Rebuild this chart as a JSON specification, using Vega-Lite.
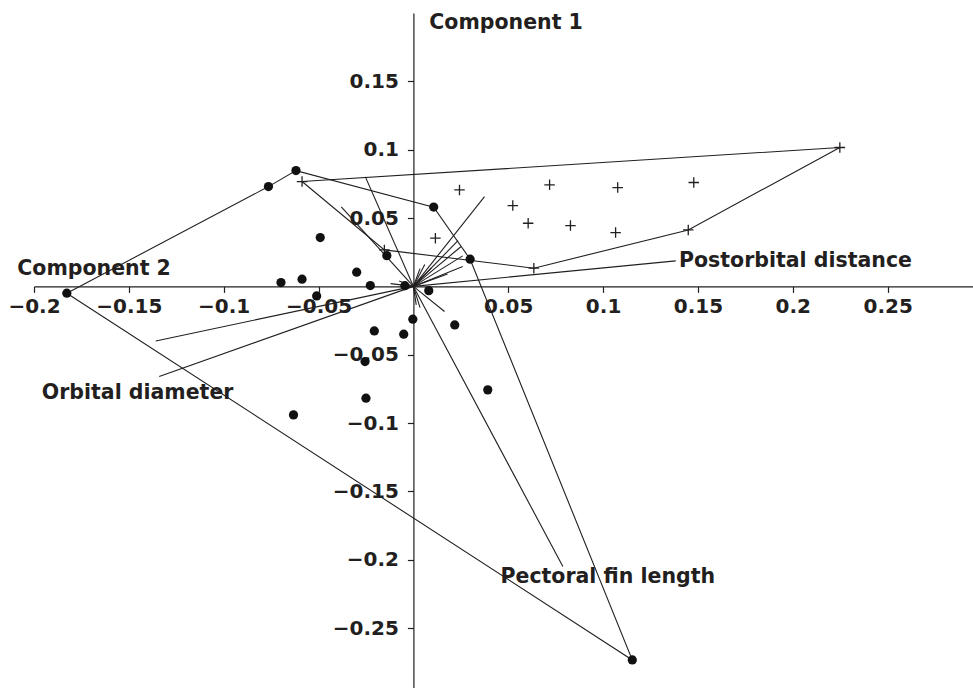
{
  "$schema": "https://vega.github.io/schema/vega-lite/v6.json",
  "width": 939,
  "height": 675,
  "padding": {"left": 34, "top": 13, "right": 0, "bottom": 0},
  "autosize": {"type": "none"},
  "background": "white",
  "config": {"view": {"stroke": null}},
  "datasets": {
    "dots": [
      {"x": -0.1827, "y": -0.005}, {"x": -0.0764, "y": 0.073}, {"x": -0.0619, "y": 0.0847},
      {"x": -0.0491, "y": 0.0357}, {"x": -0.0698, "y": 0.0028}, {"x": -0.0587, "y": 0.0053},
      {"x": -0.0299, "y": 0.0104}, {"x": -0.0227, "y": 0.0006}, {"x": -0.014, "y": 0.0225},
      {"x": 0.0107, "y": 0.058}, {"x": 0.0299, "y": 0.0199}, {"x": 0.0081, "y": -0.0031},
      {"x": -0.0003, "y": -0.024}, {"x": 0.0218, "y": -0.0282}, {"x": -0.0206, "y": -0.0326},
      {"x": -0.0051, "y": -0.035}, {"x": -0.051, "y": -0.007}, {"x": -0.0255, "y": -0.055},
      {"x": -0.025, "y": -0.0818}, {"x": -0.0632, "y": -0.094}, {"x": 0.0392, "y": -0.0757},
      {"x": 0.1154, "y": -0.2733}, {"x": -0.0045, "y": 0.0005}
    ],
    "plus": [
      {"x": -0.0587, "y": 0.0767}, {"x": -0.0153, "y": 0.0267}, {"x": 0.0116, "y": 0.0353},
      {"x": 0.0243, "y": 0.0706}, {"x": 0.0524, "y": 0.0591}, {"x": 0.0605, "y": 0.0462},
      {"x": 0.0718, "y": 0.0743}, {"x": 0.0828, "y": 0.0445}, {"x": 0.0635, "y": 0.0133},
      {"x": 0.1066, "y": 0.0394}, {"x": 0.1077, "y": 0.0723}, {"x": 0.1449, "y": 0.0413},
      {"x": 0.1478, "y": 0.076}, {"x": 0.2248, "y": 0.1016}
    ],
    "hulls": [
      {"group": "dots", "order": 1, "x": -0.1827, "y": -0.005},
      {"group": "dots", "order": 2, "x": -0.0764, "y": 0.073},
      {"group": "dots", "order": 3, "x": -0.0619, "y": 0.0847},
      {"group": "dots", "order": 4, "x": 0.0107, "y": 0.058},
      {"group": "dots", "order": 5, "x": 0.0299, "y": 0.0199},
      {"group": "dots", "order": 6, "x": 0.1154, "y": -0.2733},
      {"group": "dots", "order": 7, "x": -0.1827, "y": -0.005},
      {"group": "plus", "order": 1, "x": -0.0587, "y": 0.0767},
      {"group": "plus", "order": 2, "x": 0.2248, "y": 0.1016},
      {"group": "plus", "order": 3, "x": 0.1449, "y": 0.0413},
      {"group": "plus", "order": 4, "x": 0.0635, "y": 0.0133},
      {"group": "plus", "order": 5, "x": -0.0153, "y": 0.0267},
      {"group": "plus", "order": 6, "x": -0.0587, "y": 0.0767}
    ],
    "vectors": [
      {"x": 0.0375, "y": 0.0657}, {"x": -0.0253, "y": 0.0801}, {"x": -0.038, "y": 0.0582},
      {"x": 0.1383, "y": 0.0187}, {"x": -0.1358, "y": -0.0399}, {"x": -0.134, "y": -0.0659},
      {"x": 0.0788, "y": -0.205}, {"x": 0.0164, "y": -0.0184},
      {"x": 0.0235, "y": 0.0335}, {"x": 0.025, "y": 0.029}, {"x": 0.026, "y": 0.0223},
      {"x": 0.026, "y": 0.0146}, {"x": 0.018, "y": 0.009},
      {"x": 0.0035, "y": 0.013}, {"x": 0.006, "y": 0.016}, {"x": 0.0095, "y": 0.0135},
      {"x": -0.0075, "y": 0.004}, {"x": -0.012, "y": 0.002},
      {"x": 0.0015, "y": -0.0135}, {"x": 0.0035, "y": -0.0155}
    ],
    "labels": [
      {"x": 0.0084, "y": 0.1881, "text": "Component 1"},
      {"x": -0.2088, "y": 0.0083, "text": "Component 2"},
      {"x": 0.14, "y": 0.0144, "text": "Postorbital distance"},
      {"x": -0.1959, "y": -0.0826, "text": "Orbital diameter"},
      {"x": 0.0459, "y": -0.2173, "text": "Pectoral fin length"}
    ]
  },
  "encoding": {
    "x": {
      "field": "x", "type": "quantitative",
      "scale": {"domain": [-0.2, 0.295], "nice": false, "zero": false},
      "axis": {
        "orient": "bottom", "offset": -401.6, "title": null, "grid": false,
        "values": [-0.2, -0.15, -0.1, -0.05, 0.05, 0.1, 0.15, 0.2, 0.25],
        "domainColor": "#231f20", "domainWidth": 1.2,
        "tickColor": "#231f20", "tickSize": 6, "tickWidth": 1.2,
        "labelFont": "DejaVu Sans", "labelFontWeight": "bold", "labelFontSize": 20,
        "labelColor": "#231f20", "labelPadding": 4, "labelFlush": false, "labelOverlap": false,
        "labelExpr": "datum.value < 0 ? '−' + format(-datum.value, '~g') : format(datum.value, '~g')"
      }
    },
    "y": {
      "field": "y", "type": "quantitative",
      "scale": {"domain": [-0.2938, 0.2], "nice": false, "zero": false},
      "axis": {
        "orient": "left", "offset": -379.4, "title": null, "grid": false,
        "values": [0.15, 0.1, 0.05, -0.05, -0.1, -0.15, -0.2, -0.25],
        "domainColor": "#231f20", "domainWidth": 1.2,
        "tickColor": "#231f20", "tickSize": 6, "tickWidth": 1.2,
        "labelFont": "DejaVu Sans", "labelFontWeight": "bold", "labelFontSize": 20,
        "labelColor": "#231f20", "labelPadding": 9, "labelFlush": false, "labelOverlap": false,
        "labelExpr": "datum.value < 0 ? '−' + format(-datum.value, '~g') : format(datum.value, '~g')"
      }
    }
  },
  "layer": [
    {
      "data": {"name": "vectors"},
      "mark": {"type": "rule", "color": "#231f20", "strokeWidth": 1.1},
      "encoding": {"x2": {"datum": 0}, "y2": {"datum": 0}}
    },
    {
      "data": {"name": "hulls"},
      "mark": {"type": "line", "color": "#231f20", "strokeWidth": 1.1},
      "encoding": {
        "detail": {"field": "group", "type": "nominal"},
        "order": {"field": "order", "type": "quantitative"}
      }
    },
    {
      "data": {"name": "plus"},
      "mark": {"type": "point", "shape": "M-1,0L1,0M0,-1L0,1", "size": 110, "filled": false, "stroke": "#231f20", "strokeWidth": 1.3, "opacity": 1}
    },
    {
      "data": {"name": "dots"},
      "mark": {"type": "point", "shape": "circle", "size": 85, "filled": true, "color": "#111111", "opacity": 1}
    },
    {
      "data": {"name": "labels"},
      "mark": {"type": "text", "font": "DejaVu Sans", "fontWeight": "bold", "fontSize": 20.5, "align": "left", "baseline": "alphabetic", "color": "#231f20"},
      "encoding": {"text": {"field": "text", "type": "nominal"}}
    }
  ]
}
